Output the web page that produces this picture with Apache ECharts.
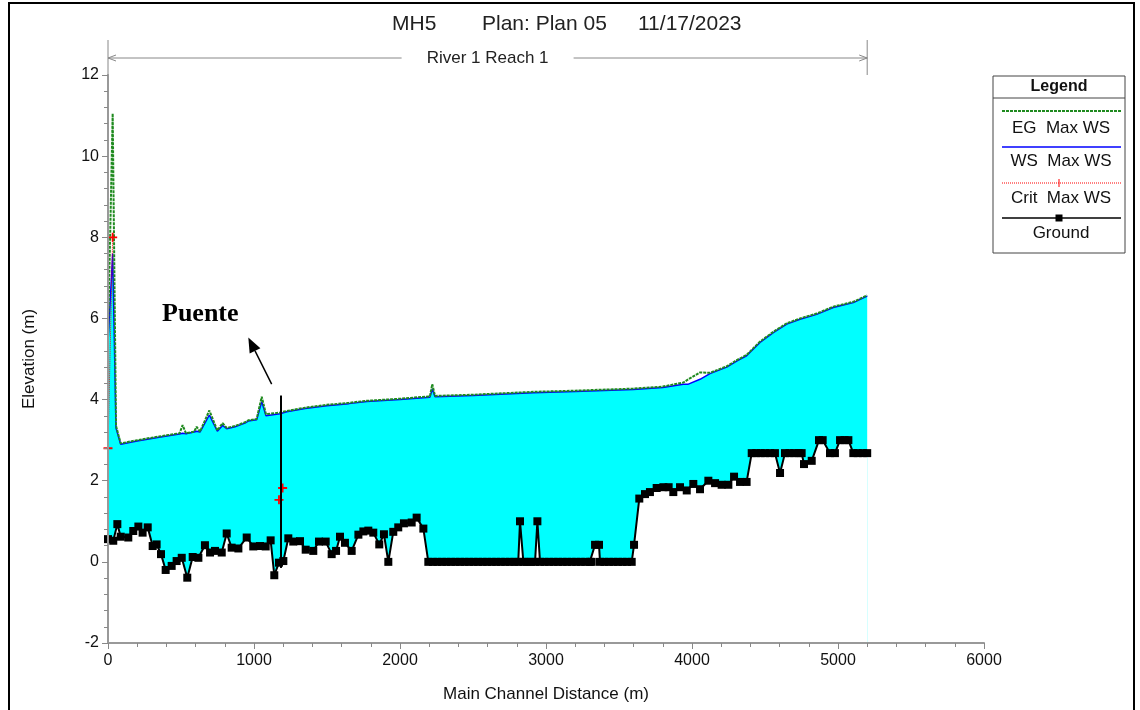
<!DOCTYPE html>
<html><head><meta charset="utf-8">
<script src="https://cdn.jsdelivr.net/npm/echarts@6/dist/echarts.min.js"></script>
<style>html,body{margin:0;padding:0;background:#fff;}#c{width:1140px;height:710px;}</style>
</head><body><div id="c"></div>
<script>
// ---- Water surface profile (stations along main channel, m) ----
const wsDist = [0,32,55,87,200,350,490,511,534,590,607,630,694,749,785,813,870,938,961,1018,1053,1082,1178,1224,1350,1498,1650,1772,2000,2205,2221,2240,2500,2913,3200,3598,3800,3941,3975,4055,4123,4238,4306,4374,4466,4557,4649,4740,4854,4968,5105,5200];
const wsElev = [5.4,7.6,3.3,2.9,2.98,3.07,3.15,3.17,3.16,3.2,3.22,3.2,3.62,3.22,3.36,3.28,3.33,3.42,3.47,3.5,3.95,3.6,3.65,3.7,3.78,3.85,3.9,3.95,4.0,4.06,4.26,4.07,4.1,4.17,4.2,4.25,4.3,4.38,4.38,4.5,4.64,4.8,4.95,5.08,5.41,5.65,5.86,5.98,6.1,6.27,6.39,6.55];
const egElev = [5.45,11.05,3.35,2.92,3.0,3.09,3.17,3.37,3.17,3.21,3.33,3.21,3.73,3.24,3.42,3.3,3.35,3.44,3.49,3.52,4.07,3.64,3.68,3.72,3.8,3.87,3.92,3.97,4.02,4.08,4.38,4.09,4.12,4.19,4.22,4.27,4.32,4.42,4.5,4.67,4.66,4.82,4.97,5.1,5.43,5.67,5.88,6.0,6.12,6.29,6.41,6.57];
// ---- Critical WS (only where computed) ----
const critDist = [0, 32];
const critElev = [2.8, 8.0];
const critBridgeDist = [1171, 1196];
const critBridgeElev = [1.53, 1.82];
// ---- Ground (channel invert) ----
const groundDist = [0,36,64,87,139,173,208,237,272,306,333,363,395,436,470,505,543,580,619,664,699,733,779,813,847,893,950,995,1041,1080,1114,1139,1171,1201,1235,1269,1315,1354,1406,1445,1491,1532,1562,1589,1623,1669,1715,1749,1783,1817,1858,1890,1920,1954,1988,2027,2080,2114,2160,2194,2225,2256,2287,2318,2349,2380,2411,2442,2473,2504,2535,2566,2597,2628,2659,2690,2721,2752,2783,2810,2822,2845,2870,2897,2925,2941,2959,2990,3021,3052,3083,3114,3145,3176,3207,3238,3269,3300,3313,3336,3363,3370,3400,3431,3462,3493,3524,3555,3587,3603,3639,3678,3712,3758,3804,3840,3872,3918,3964,4009,4055,4112,4158,4203,4249,4288,4329,4374,4409,4440,4470,4500,4535,4568,4603,4637,4668,4700,4730,4751,4767,4820,4870,4895,4945,4979,5014,5045,5071,5105,5135,5170,5200];
const groundElev = [0.56,0.52,0.93,0.62,0.6,0.76,0.87,0.72,0.85,0.39,0.43,0.19,-0.2,-0.1,0.02,0.1,-0.39,0.12,0.1,0.41,0.23,0.27,0.23,0.7,0.35,0.33,0.6,0.38,0.39,0.38,0.53,-0.33,-0.02,0.02,0.58,0.5,0.51,0.3,0.27,0.5,0.5,0.19,0.27,0.62,0.47,0.27,0.67,0.75,0.77,0.72,0.43,0.68,0.0,0.74,0.85,0.95,0.97,1.09,0.82,0,0,0,0,0,0,0,0,0,0,0,0,0,0,0,0,0,0,0,0,0,1.0,0,0,0,0,1.0,0,0,0,0,0,0,0,0,0,0,0,0,0,0.42,0.42,0,0,0,0,0,0,0,0,0.42,1.56,1.67,1.72,1.82,1.84,1.84,1.72,1.84,1.76,1.92,1.79,2.0,1.94,1.9,1.9,2.1,1.97,1.97,2.68,2.68,2.68,2.68,2.68,2.68,2.19,2.68,2.68,2.68,2.68,2.68,2.41,2.49,3.0,3.0,2.68,2.68,3.0,3.0,3.0,2.68,2.68,2.68,2.68];
// ---- Bridge ("Puente") ----
const bridgeDist = [1185, 1185];
const bridgeElev = [-0.15, 4.1];
// ---- Axes ----
const xMin = 0, xMax = 6000, xStep = 1000;
const yMin = -2, yMax = 12, yStep = 2;

const FONT = '"Liberation Sans", Arial, sans-serif';
const pair = (xs, ys) => xs.map((x, i) => [x, ys[i]]);
const PLUS = 'path://M4,0H6V10H4ZM0,4H10V6H0Z';

const chart = echarts.init(document.getElementById('c'), null, {renderer: 'canvas'});
const axisCommon = {
  type: 'value', z: 10,
  nameLocation: 'middle',
  nameTextStyle: {fontFamily: FONT, fontSize: 17, color: '#111'},
  axisLine: {show: true, onZero: false, lineStyle: {color: '#999', width: 2}},
  axisTick: {show: true, length: 6, lineStyle: {color: '#888', width: 1}},
  minorTick: {show: true, splitNumber: 5, length: 4, lineStyle: {color: '#888', width: 1}},
  splitLine: {show: false}, minorSplitLine: {show: false},
  axisLabel: {fontFamily: FONT, fontSize: 16, color: '#111', formatter: v => String(v)}
};
const option = {
  animation: false,
  backgroundColor: '#fff',
  grid: {left: 108, right: 156, top: 75, bottom: 67, containLabel: false, outerBoundsMode: 'none'},
  xAxis: Object.assign({}, axisCommon, {
    min: xMin, max: xMax, interval: xStep,
    name: 'Main Channel Distance (m)', nameGap: 43,
    axisLabel: Object.assign({}, axisCommon.axisLabel, {margin: 10})
  }),
  yAxis: Object.assign({}, axisCommon, {
    min: yMin, max: yMax, interval: yStep,
    name: 'Elevation (m)', nameGap: 70, nameRotate: 90,
    axisLabel: Object.assign({}, axisCommon.axisLabel, {margin: 9})
  }),
  series: [
    {name: 'WS  Max WS', type: 'line', data: pair(wsDist, wsElev), symbol: 'none', z: 2,
     lineStyle: {color: '#0000ff', width: 1.5},
     areaStyle: {color: '#00ffff', opacity: 1, origin: 'start'}},
    {name: 'Ground', type: 'line', data: pair(groundDist, groundElev), z: 3,
     symbol: 'rect', symbolSize: 8, itemStyle: {color: '#000'},
     lineStyle: {color: '#000', width: 2},
     areaStyle: {color: '#ffffff', opacity: 1, origin: 'start'}},
    {name: 'EG  Max WS', type: 'line', data: pair(wsDist, egElev), symbol: 'none', z: 4,
     lineStyle: {color: '#1f8a1f', width: 2, type: [3, 1]}},
    {name: 'Crit  Max WS', type: 'line', data: pair(critDist, critElev), z: 5,
     symbol: PLUS, symbolSize: 9, itemStyle: {color: '#ff0000'},
     lineStyle: {color: '#ff0000', width: 1, type: 'dotted'}},
    {name: 'Crit bridge', type: 'line', data: pair(critBridgeDist, critBridgeElev), z: 5,
     symbol: PLUS, symbolSize: 9, itemStyle: {color: '#ff0000'},
     lineStyle: {color: '#ff0000', width: 1, type: 'dotted'}},
    {name: 'Bridge', type: 'line', data: pair(bridgeDist, bridgeElev), z: 6,
     symbol: 'none', lineStyle: {color: '#000', width: 2}}
  ]
};
chart.setOption(option);

// ---------- annotations ----------
const P = (x, y) => chart.convertToPixel({gridIndex: 0}, [x, y]);
const g = [];
const txt = (text, x, y, o) => Object.assign({type: 'text', z: 50, style: Object.assign({text, x, y, fill: '#111', font: '17px ' + FONT, align: 'left', verticalAlign: 'middle'}, o || {})});
const ln = (x1, y1, x2, y2, st) => ({type: 'line', z: 50, shape: {x1, y1, x2, y2}, style: Object.assign({stroke: '#000', lineWidth: 1}, st || {})});

// outer frame
g.push({type: 'rect', z: 100, shape: {x: 9, y: 3, width: 1125, height: 720}, style: {fill: 'none', stroke: '#000', lineWidth: 2}});
// title
g.push(txt('MH5', 392, 24, {font: '21px ' + FONT, fill: '#222'}));
g.push(txt('Plan: Plan 05', 482, 24, {font: '21px ' + FONT, fill: '#222'}));
g.push(txt('11/17/2023', 638, 24, {font: '21px ' + FONT, fill: '#222'}));
// reach bracket
const bx0 = P(wsDist[0], yMax)[0], bx1 = P(wsDist[wsDist.length - 1], yMax)[0];
const by = 58, bc = (bx0 + bx1) / 2, gs = {stroke: '#888', lineWidth: 1};
g.push(ln(bx0, 40, bx0, 75, gs), ln(bx1, 40, bx1, 75, gs));
g.push(ln(bx0, by, bc - 86, by, gs), ln(bc + 86, by, bx1, by, gs));
g.push(ln(bx0, by, bx0 + 8, by - 3, gs), ln(bx0, by, bx0 + 8, by + 3, gs));
g.push(ln(bx1, by, bx1 - 8, by - 3, gs), ln(bx1, by, bx1 - 8, by + 3, gs));
g.push(txt('River 1 Reach 1', bc, by, {align: 'center', font: '17px ' + FONT, fill: '#222'}));
// Puente label + arrow
const pl = P(370, 6.11);
g.push(txt('Puente', pl[0], pl[1], {font: 'bold 26px "Liberation Serif", "Times New Roman", serif', fill: '#000'}));
const aF = P(1121, 4.38), aT = P(961, 5.53);
const dx = aT[0] - aF[0], dy = aT[1] - aF[1], L = Math.hypot(dx, dy), ux = dx / L, uy = dy / L;
const hl = 15, hw = 6;
const bxp = aT[0] - ux * hl, byp = aT[1] - uy * hl;
g.push(ln(aF[0], aF[1], bxp, byp, {lineWidth: 1.5}));
g.push({type: 'polygon', z: 50, shape: {points: [aT, [bxp - uy * hw, byp + ux * hw], [bxp + uy * hw, byp - ux * hw]]}, style: {fill: '#000'}});

// legend box
const LX = 993, LY = 76, LW = 132, LH = 177, LC = LX + LW / 2;
g.push({type: 'rect', z: 40, shape: {x: LX, y: LY, width: LW, height: LH}, style: {fill: '#fff', stroke: '#444', lineWidth: 1}});
g.push(txt('Legend', LC, LY + 11, {align: 'center', font: 'bold 16px ' + FONT}));
g.push(ln(LX, LY + 22, LX + LW, LY + 22, {stroke: '#444'}));
const s0 = LX + 9, s1 = LX + LW - 4;
g.push(ln(s0, LY + 35, s1, LY + 35, {stroke: '#1f8a1f', lineWidth: 2, lineDash: [3, 1]}));
g.push(txt('EG  Max WS', LC + 2, LY + 52, {align: 'center'}));
g.push(ln(s0, LY + 71, s1, LY + 71, {stroke: '#0000ff', lineWidth: 1.5}));
g.push(txt('WS  Max WS', LC + 2, LY + 85, {align: 'center'}));
g.push(ln(s0, LY + 107, s1, LY + 107, {stroke: '#ff0000', lineWidth: 1, lineDash: [1, 1]}));
g.push(ln(LC, LY + 103, LC, LY + 111, {stroke: '#ff0000', lineWidth: 1}));
g.push(ln(s0, LY + 142, s1, LY + 142, {stroke: '#000', lineWidth: 1.5}));
g.push({type: 'rect', z: 51, shape: {x: LC - 3.5, y: LY + 138.5, width: 7, height: 7}, style: {fill: '#000'}});
g.push(txt('Crit  Max WS', LC + 2, LY + 122, {align: 'center'}));
g.push(txt('Ground', LC + 2, LY + 157, {align: 'center'}));

chart.setOption({graphic: g});
</script></body></html>
